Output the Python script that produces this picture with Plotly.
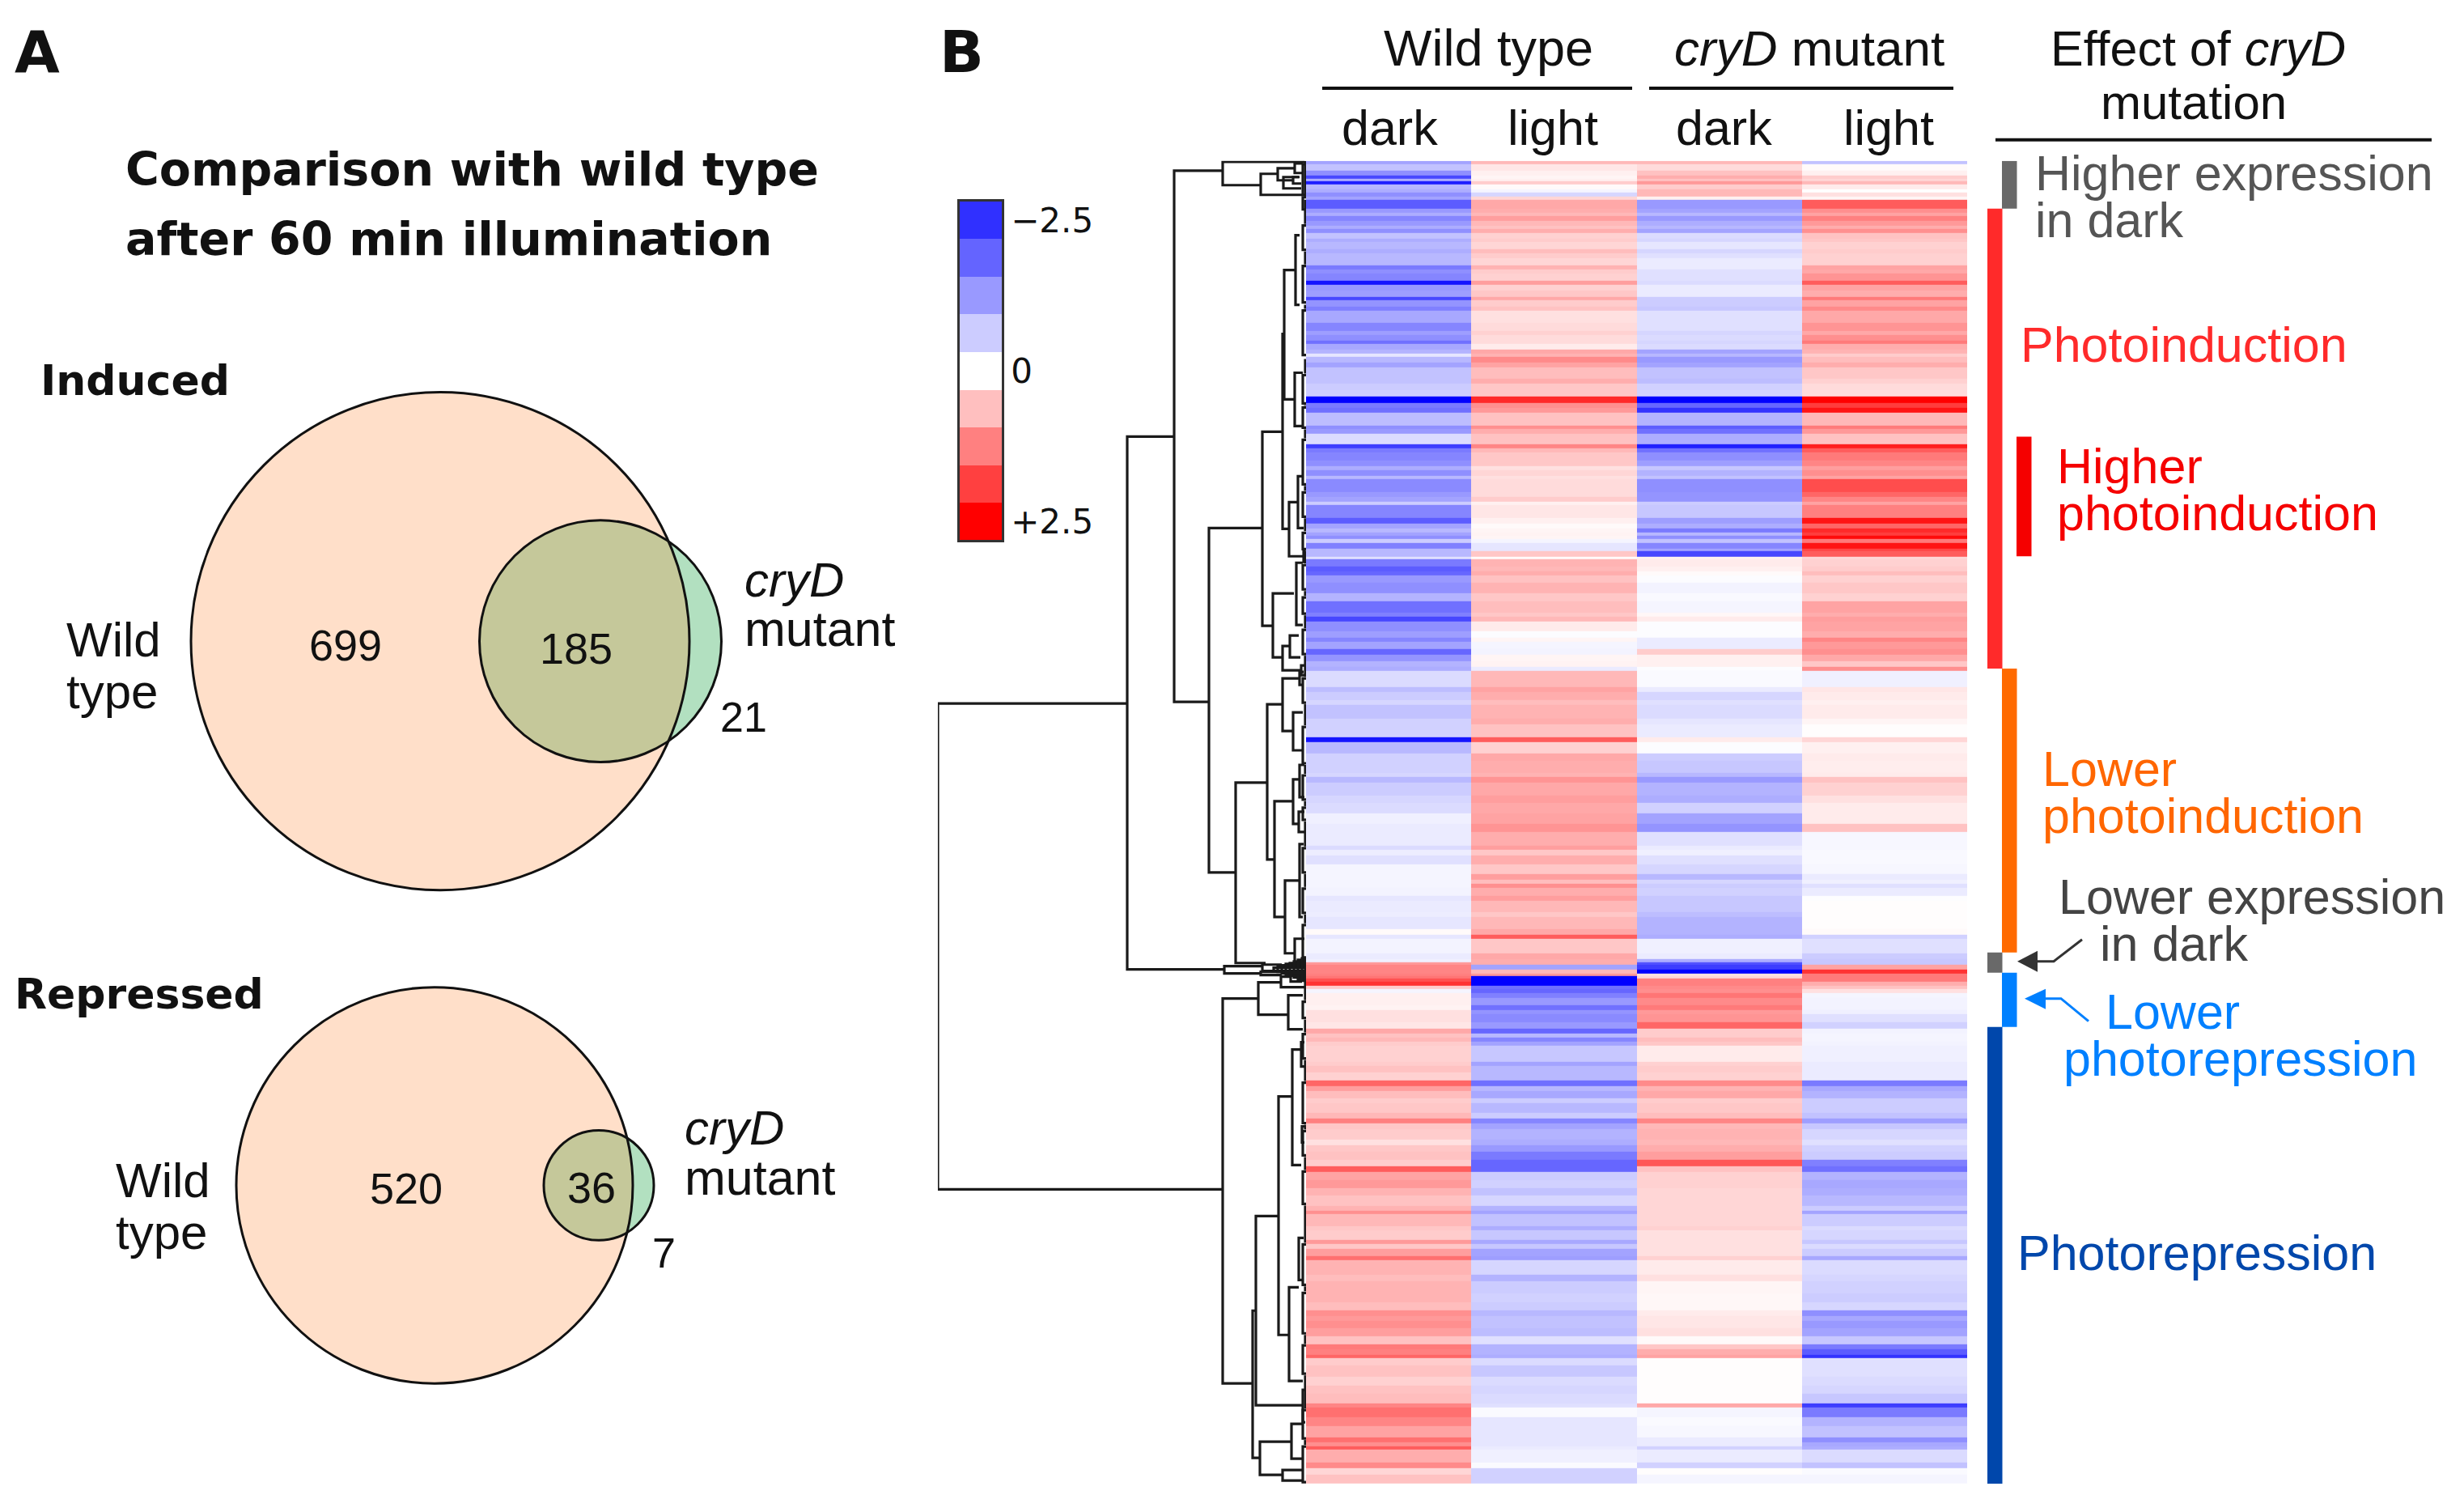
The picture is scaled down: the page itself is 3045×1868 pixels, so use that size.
import plotly.graph_objects as go

W, H = 3045, 1868
def X(px): return px / W
def Y(py): return 1 - py / H

# ---------- Panel A counts ----------
induced_counts = ["699", "185", "21"]
repressed_counts = ["520", "36", "7"]

# ---------- Panel B heat map: first row of each band, and the four conditions ----------
row_starts = [
 0,4,12,18,22,25,29,35,39,44,48,59,64,68,74,80,84,89,96,100,109,114,120,129,134,139,148,153,160,168,172,180,185,200,210,215,222,226,233,238,242,249,255,269,275,291,299,305,311,
 327,331,337,350,355,360,370,377,382,389,393,409,415,421,425,441,448,454,459,463,467,473,480,483,490,493,502,508,513,522,535,545,559,564,570,582,590,595,604,611,619,626,631,651,
 657,667,673,690,697,713,719,733,742,757,762,769,785,794,807,820,830,847,852,859,870,882,889,894,899,909,915,929,935,950,957,962,980,
 987,991,994,1000,1005,1008,1011,1015,1020,1024,1029,1035,1044,1050,1055,1065,1073,1079,1084,1089,1094,1114,1119,1127,1137,1144,1150,1159,1165,1177,1184,1190,1197,1210,1217,1225,1235,1243,1250,1260,1270,1279,1292,1298,1302,
 1317,1322,1334,1339,1345,1354,1359,1377,1385,1400,1412,1422,1429,1435,1444,1454,1464,1470,1477,1481,1490,1504,1515,1525,1537,1542,1554,1565,1579,1585,1590,1594,1610,1617,1625,
 1636]
wt_dark = [
 -.9,-.6,-1.1,-1.8,-.8,-2.2,-.7,-.8,-1.1,-.9,-1.6,-1.0,-.8,-1.2,-1.0,-.8,-1.1,-.6,-.8,-.7,-.8,-.7,-.7,-1.3,-1.1,-1.2,-2.3,-1.0,-.95,-1.8,-1.05,-1.25,-.85,-1.2,-.95,-1.1,-1.4,-.85,-.75,-.25,-.7,-.9,-.6,-.6,-.5,-2.5,-1.3,-1.4,-.65,
 -1.1,-1.0,-.35,-1.9,-1.3,-1.2,-1.1,-.8,-1.1,-.7,-1.15,-1.0,-.9,-.5,-1.2,-1.6,-.9,-.7,-.9,-1.1,-.5,-1.25,-.7,-.7,-.3,-1.3,-1.6,-1.5,-1.0,-1.1,-.75,-1.4,-1.25,-1.8,-1.1,-.95,-1.2,-.9,-1.5,-1.05,-.75,-.8,-.35,-.65,
 -.5,-.4,-.6,-.45,-.45,-2.3,-.7,-.45,-.45,-.4,-.7,-.5,-.4,-.35,-.15,-.2,-.2,-.35,-.18,-.3,-.1,-.1,-.1,-.1,-.12,-.25,-.2,-.18,-.25,.05,-.25,-.12,-.2,
 -.15,1.0,1.2,1.2,1.25,1.35,1.7,2.0,.5,-.1,.15,.15,.12,.3,.3,.25,.85,.6,.7,.5,.45,.5,.6,.45,1.5,.95,.65,.5,.55,.7,1.25,.55,.5,.3,.55,.6,.5,1.6,.9,1.0,.75,.6,.75,1.1,.7,
 .55,.5,1.0,.55,.95,1.4,.75,.65,.75,.75,.65,1.1,1.0,1.1,.95,.6,1.3,1.25,1.5,.5,.6,.45,.6,.65,1.2,1.4,1.2,.9,1.4,1.1,1.6,.8,1.15,.4,.6]
wt_light = [
 .7,.25,.15,.1,.15,.5,.05,-.1,-.4,.4,.85,.8,.7,.95,.7,.6,.8,.45,.5,.4,.65,.5,.4,.75,.5,.45,.95,.45,.55,.85,.5,.6,.3,.35,.45,.35,.35,.2,.85,.75,1.15,.9,.65,.8,.55,2.1,1.1,1.0,.6,
 1.1,.8,.6,1.2,.7,.55,.55,.3,.4,.3,.35,.35,.5,.15,.25,.15,.05,.1,.12,.1,-.1,-.25,-.25,.55,.05,.75,.7,.8,.6,.75,.55,.65,.55,.7,.2,-.03,.1,-.1,-.12,.1,.12,-.2,.7,.9,
 .8,.65,.75,.8,.6,1.6,.45,.85,.8,.75,1.05,.85,.95,.85,.9,1.05,.8,.95,.55,.8,.55,.95,.65,1.1,.8,.95,.7,.55,.7,.85,1.6,.55,.85,
 .8,.8,-.9,.7,1.0,-2.5,-2.5,-2.5,-1.4,-1.5,-1.25,-1.0,-1.4,-1.05,-1.15,-1.0,-1.5,-.7,-1.2,-.9,-.55,-.9,-.7,-.7,-1.4,-.7,-.85,-.5,-.7,-.5,-1.2,-.9,-.75,-.8,-1.0,-1.3,-1.5,-1.5,-.5,-.45,-.6,-.4,-.75,-.9,-.6,
 -.8,-.55,-.85,-.55,-.9,-.95,-.4,-.75,-.5,-.45,-.5,-.7,-.6,-.6,-.65,-.3,-.75,-.75,-.8,-.35,-.55,-.35,-.4,-.35,-.3,-.05,-.25,-.25,-.25,-.25,-.2,-.15,-.05,-.45,-.45]
cry_dark = [
 .7,.35,.6,.8,.6,1.0,.5,.7,.7,.15,-1.0,-.9,-.7,-1.0,-.8,-.7,-.9,-.35,-.4,-.25,-.4,-.3,-.2,-.2,-.3,-.3,-.35,-.2,-.2,-.5,-.5,-.55,-.3,-.3,-.4,-.35,-.4,-.35,-.9,-.7,-1.0,-.9,-.6,-.65,-.45,-2.5,-1.5,-2.0,-.75,
 -1.6,-1.4,-.8,-2.2,-1.4,-1.1,-.95,-.55,-.75,-.6,-1.1,-1.05,-1.05,-.5,-.55,-.95,-.8,-1.3,-.7,-1.1,-.6,-1.2,-.9,-1.8,.15,.2,.15,.05,-.03,-.12,-.06,-.1,.08,.2,-.03,-.03,-.2,-.2,.5,.15,.15,-.03,-.05,-.2,
 -.4,-.3,-.35,-.25,-.2,.2,-.03,-.5,-.55,-.7,-1.0,-.75,-.8,-.45,-.9,-1.05,-.3,-.2,-.15,-.3,-.4,-.7,-.4,-.5,-.45,-.55,-.55,-.65,-.75,-.75,-.8,-.15,-.2,
 -.8,-1.7,-1.9,-2.5,.3,.4,1.25,1.25,1.15,1.1,1.35,1.15,1.3,1.0,1.05,1.5,.5,.5,.65,.55,.2,.45,.5,.45,1.15,.75,.85,.5,.55,.65,1.2,.7,.75,.7,.8,.95,1.65,.6,.45,.45,.4,.4,.4,.4,.4,
 .45,.3,.3,.3,.3,.45,.2,.3,.1,.08,.08,.2,.25,.25,.3,.05,.55,.8,.9,.02,.02,.02,.02,.02,.85,-.1,-.05,-.08,-.2,-.2,-.45,-.2,-.45,.02,-.1]
cry_light = [
 -.6,.05,.15,.5,.4,.7,.2,0,.3,.1,1.6,1.1,.9,1.25,1.0,.8,1.1,.6,.55,.45,.5,.45,.45,.9,.85,1.05,1.6,.9,.8,1.3,.9,1.15,.85,1.05,.85,1.1,1.3,.8,.75,.5,.65,.8,.55,.45,.35,2.5,1.9,2.3,.7,
 1.3,1.0,.6,2.2,1.6,1.3,1.2,.95,1.1,.9,1.75,1.5,1.2,.9,1.25,2.3,1.5,2.1,1.9,2.4,1.3,2.3,1.8,1.6,.4,.45,.5,.65,.45,.55,.45,.9,.8,.95,.9,.8,1.2,1.0,1.1,.85,.55,1.1,-.15,.25,
 .2,.15,.2,.1,.02,.4,.15,.2,.18,.2,.6,.45,.3,.2,.2,.6,-.08,-.08,-.06,-.06,-.08,-.2,-.15,-.3,-.2,-.02,.02,.02,.02,.05,-.45,-.3,-.5,
 -.55,-.55,.9,2.0,1.3,1.3,1.3,.8,.6,.3,-.1,-.12,-.12,-.15,-.3,-.45,-.12,-.1,-.1,-.12,-.15,-.2,-.2,-.2,-1.3,-.85,-.75,-.5,-.5,-.6,-.95,-.55,-.4,-.3,-.45,-.5,-1.25,-1.4,-.75,-.85,-.8,-.7,-.5,-.9,-.5,
 -.35,-.4,-.55,-.35,-.5,-.85,-.35,-.4,-.45,-.5,-.4,-1.1,-.85,-1.0,-.9,-.55,-1.3,-1.6,-2.0,-.3,-.3,-.35,-.4,-.55,-1.9,-1.3,-.75,-.6,-1.1,-.85,-.8,-.35,-.6,-.05,-.1]
conditions = ["WT dark", "WT light", "cryD dark", "cryD light"]

# ---------- Colour key ----------
key_levels = [-2.5, -1.875, -1.25, -0.625, 0, 0.625, 1.25, 1.875, 2.5]
key_colors = ["#3030ff", "#6464ff", "#9999ff", "#ccccff", "#ffffff", "#ffbfbf", "#ff8080", "#ff4040", "#ff0000"]
key_ticks = ["\u22122.5", "0", "+2.5"]

# ---------- Dendrogram: each merge has a height, two rows, and two child heights ----------
merge_h = [455,221,163,103,56,35,14,16,28,120,54,29,27,13,14,21,10,3,41,12,29,20,6,87,48,29,8,16,39,16,8,9,26,8,14,
           101,54,56,40,35,30,25,20,15,10,5,103,59,31,22,19,66,62,34,17,6,5,21,9,4,57,18,29]
merge_r1 = [671,341,12,1,16,9,3,20,20,454,335,214,135,92,262,422,390,482,535,497,600,587,624,769,672,640,632,682,792,765,747,805,890,845,962,
            996,994,1003,998,997,995,993,992,990,988,986,1036,1016,1009,1032,1005,1422,1305,1157,1099,1090,1194,1393,1332,1520,1584,1562,1619]
merge_r2 = [1272,1000,669,30,42,24,15,28,34,880,575,455,295,178,328,489,454,496,614,574,630,614,636,992,864,705,648,729,935,820,787,830,980,935,998,
            1005,1002,1007,1002,1003,1005,1007,1008,1010,1012,1014,1512,1056,1022,1074,1015,1604,1539,1452,1242,1120,1214,1509,1384,1560,1625,1605,1632]
merge_h1 = [221,163,103,2,35,14,4,8,9,54,29,27,13,8,4,10,3,1,15,4,20,9,2,48,29,8,3,4,16,8,2,2,8,3,2,
            54,30,30,0,0,0,0,0,0,0,0,59,31,19,4,5,62,34,17,6,2,2,9,3,1,18,4,4]
merge_h2 = [103,101,120,56,3,16,4,6,6,87,41,21,14,8,4,3,3,1,29,4,6,7,2,50,39,16,3,4,26,9,2,2,14,4,2,
            56,30,30,0,0,0,0,0,0,0,0,66,22,2,4,5,57,5,21,6,2,2,4,3,1,29,4,4]
leaf_r1 = [4,45,80,130,185,265,305,345,410,460,500,540,580,640,700,760,800,850,900,945,1040,1080,1140,1200,1250,1340,1400,1465,1545,1590]
leaf_r2 = [42,60,110,175,240,300,330,400,440,480,530,560,610,670,745,790,815,880,930,985,1060,1110,1190,1230,1290,1390,1450,1500,1580,1634]
edge_r1 = [0,48,112,178,245,302,332,402,442,482,532,562,612,672,747,792,817,882,932,987,1062,1112,1192,1232,1292,1392,1452,1502,1582]
edge_r2 = [46,78,128,183,263,303,343,408,458,498,538,578,638,698,758,798,848,898,943,1038,1078,1138,1198,1248,1338,1398,1463,1543,1588]

# ---------- Cluster bars at the right, in heat-map rows ----------
cluster_r1 = [0, 59, 341, 628, 979, 1004, 1071]
cluster_r2 = [59, 628, 489, 979, 1004, 1071, 1636]
cluster_col = ["#696969", "#ff2a2a", "#f50000", "#ff6a00", "#696969", "#0080ff", "#0047ab"]
cluster_x0 = [2474, 2456, 2492, 2474, 2456, 2474, 2456]

fig = go.Figure()

z = [list(v) for v in zip(wt_dark, wt_light, cry_dark, cry_light)]
fig.add_trace(go.Heatmap(
    z=z, x=[0, 1, 2, 3], y=row_starts, zmin=-2.5, zmax=2.5, showscale=False, hoverinfo="skip",
    colorscale=[[0, "#0000ff"], [0.5, "#ffffff"], [1, "#ff0000"]], xaxis="x", yaxis="y"))

n = len(key_colors)
key_scale = []
for i, c in enumerate(key_colors):
    key_scale += [[i / n, c], [(i + 1) / n, c]]
fig.add_trace(go.Heatmap(
    z=[[v] for v in key_levels], x=[0], y=list(range(n)), zmin=-2.5 - 0.3125, zmax=2.5 + 0.3125,
    colorscale=key_scale, showscale=False, hoverinfo="skip", xaxis="x2", yaxis="y2"))

dx, dy = [], []
for h, r1, r2, h1, h2 in zip(merge_h, merge_r1, merge_r2, merge_h1, merge_h2):
    dx += [h1, h, h, h2, None]
    dy += [r1, r1, r2, r2, None]
for r1, r2 in zip(leaf_r1, leaf_r2):
    dx += [0, 4, 4, 0, None]
    dy += [r1, r1, r2, r2, None]
for r1, r2 in zip(edge_r1, edge_r2):
    dx += [1, 1, None]
    dy += [r1, r2, None]
fig.add_trace(go.Scatter(x=dx, y=dy, mode="lines", line=dict(color="#1a1a1a", width=3.2),
                         hoverinfo="skip", showlegend=False, xaxis="x3", yaxis="y"))

shapes = []
def circle(cx, cy, r, fill="rgba(0,0,0,0)", line="#111111", lw=0):
    shapes.append(dict(type="circle", xref="paper", yref="paper",
                       x0=X(cx - r), x1=X(cx + r), y0=Y(cy + r), y1=Y(cy - r),
                       fillcolor=fill, line=dict(color=line, width=lw)))

ORANGE = "rgba(255,127,39,0.25)"
GREEN = "#b2e0c0"
for big, small in [((544, 792, 308), (742, 792, 149.5)), ((537, 1465, 245), (740, 1465, 68))]:
    circle(*small, fill=GREEN)
    circle(*big, fill=ORANGE)
    circle(*small, lw=3)
    circle(*big, lw=3)

def hline(x0, x1, y, lw=4, col="#111111"):
    shapes.append(dict(type="line", xref="paper", yref="paper", x0=X(x0), x1=X(x1), y0=Y(y), y1=Y(y),
                       line=dict(color=col, width=lw)))
hline(1634, 2017, 108)
hline(2038, 2414, 108)
hline(2466, 3005, 172)

for r1, r2, c, x0 in zip(cluster_r1, cluster_r2, cluster_col, cluster_x0):
    shapes.append(dict(type="rect", xref="paper", yref="y", x0=X(x0), x1=X(x0 + 18.5), y0=r1, y1=r2,
                       fillcolor=c, line=dict(width=0)))

def path(points, col, fill=False, lw=3):
    d = "M " + " L ".join(f"{X(a):.5f},{Y(b):.5f}" for a, b in points) + (" Z" if fill else "")
    shapes.append(dict(type="path", xref="paper", yref="paper", path=d,
                       fillcolor=col if fill else "rgba(0,0,0,0)",
                       line=dict(color=col, width=0 if fill else lw)))
path([(2573, 1161), (2538, 1188), (2515, 1188)], "#333333")
path([(2493, 1188), (2518, 1175), (2518, 1201)], "#333333", fill=True)
path([(2581, 1262), (2547, 1234), (2526, 1234)], "#0080ff")
path([(2502, 1234), (2528, 1222), (2528, 1247)], "#0080ff", fill=True)

annotations = []
LIB, DJV = "Liberation Sans", "DejaVu Sans"
def txt(x, base, s, size=60, col="#111111", font=LIB, anchor="left", bold=False):
    annotations.append(dict(
        xref="paper", yref="paper", x=X(x), y=Y(base - 0.35 * size), text=f"<b>{s}</b>" if bold else s,
        showarrow=False, xanchor=anchor, yanchor="middle", borderpad=0, borderwidth=0,
        font=dict(family=font, size=size, color=col)))

txt(18, 88, "A", 72, font=DJV, bold=True)
txt(1161, 88, "B", 72, font=DJV, bold=True)
txt(155, 228, "Comparison with wild type", 57, font=DJV, bold=True)
txt(155, 314, "after 60 min illumination", 57, font=DJV, bold=True)
txt(50, 488, "Induced", 52, font=DJV, bold=True)
txt(18, 1247, "Repressed", 52, font=DJV, bold=True)

txt(427, 816, induced_counts[0], 54, anchor="center")
txt(712, 820, induced_counts[1], 54, anchor="center")
txt(919, 904, induced_counts[2], 52, anchor="center")
txt(82, 811, "Wild", 60); txt(82, 875, "type", 60)
txt(920, 737, "<i>cryD</i>", 60); txt(920, 798, "mutant", 61)

txt(502, 1487, repressed_counts[0], 54, anchor="center")
txt(731, 1486, repressed_counts[1], 54, anchor="center")
txt(820, 1567, repressed_counts[2], 52, anchor="center")
txt(143, 1480, "Wild", 60); txt(143, 1544, "type", 60)
txt(846, 1415, "<i>cryD</i>", 60); txt(846, 1477, "mutant", 61)

txt(1839, 80, "Wild type", 63, anchor="center")
txt(2236, 80, "<i>cryD</i> mutant", 62, anchor="center")
for cx, s in zip([1717, 1919, 2130, 2334], ["dark", "light", "dark", "light"]):
    txt(cx, 179, s, 61, anchor="center")

txt(2716, 80, "Effect of <i>cryD</i>", 61, anchor="center")
txt(2711, 147, "mutation", 60, anchor="center")
GREY = "#555555"
txt(2515, 235, "Higher expression", 61, GREY); txt(2515, 293, "in dark", 61, GREY)
txt(2497, 447, "Photoinduction", 61, "#ff2a2a")
txt(2542, 597, "Higher", 61, "#f50000"); txt(2542, 655, "photoinduction", 61, "#f50000")
txt(2524, 971, "Lower", 61, "#ff6600"); txt(2524, 1029, "photoinduction", 61, "#ff6600")
txt(2544, 1130, "Lower expression", 61, "#444444"); txt(2595, 1188, "in dark", 61, "#444444")
txt(2602, 1272, "Lower", 61, "#0080ff"); txt(2550, 1330, "photorepression", 61, "#0080ff")
txt(2493, 1570, "Photorepression", 61, "#0047ab")

hidden = dict(visible=False, showgrid=False, zeroline=False, fixedrange=True)
fig.update_layout(
    width=W, height=H, margin=dict(l=0, r=0, t=0, b=0), autosize=False,
    paper_bgcolor="white", plot_bgcolor="rgba(0,0,0,0)", showlegend=False,
    shapes=shapes, annotations=annotations,
    xaxis=dict(domain=[X(1614), X(2431)], range=[-0.5, 3.5], anchor="y", **hidden),
    yaxis=dict(domain=[Y(1834), Y(198)], range=[1636, 0], anchor="x", **hidden),
    xaxis2=dict(domain=[X(1186), X(1238)], range=[-0.5, 0.5], anchor="y2", showticklabels=False, ticks="",
                showgrid=False, zeroline=False, showline=True, mirror=True, linecolor="#333333", linewidth=2.5),
    yaxis2=dict(domain=[Y(667), Y(248)], range=[n - 0.5, -0.5], anchor="x2", side="right",
                tickvals=[0, 4, 8], ticktext=key_ticks, ticks="", ticklen=0,
                tickfont=dict(family=DJV, size=42, color="#111111"),
                showgrid=False, zeroline=False, showline=True, mirror=True, linecolor="#333333", linewidth=2.5),
    xaxis3=dict(domain=[X(1159), X(1614)], range=[455, 0], anchor="y", **hidden),
)

fig.write_html("out.html", config={"displayModeBar": False},
               post_script="document.body.style.margin='0';document.body.style.overflow='hidden';")
